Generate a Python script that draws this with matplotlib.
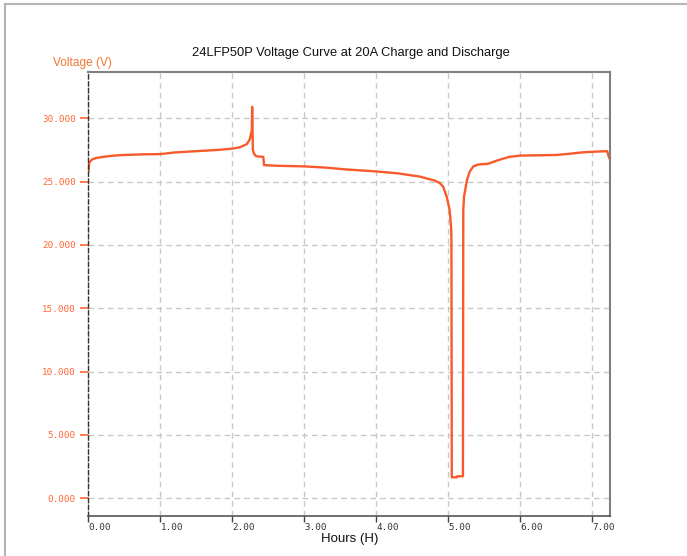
import matplotlib
matplotlib.use("Agg")
import matplotlib.pyplot as plt
from matplotlib.lines import Line2D

# hours since start of test
hours = [0.0, 0.01, 0.05, 0.1, 0.2, 0.35, 0.5, 0.75, 1.0, 1.2, 1.5, 1.8, 2.0,
         2.1, 2.2, 2.24, 2.26, 2.27, 2.275, 2.285, 2.3, 2.33, 2.43, 2.44,
         2.6, 3.0, 3.3, 3.6, 4.0, 4.3, 4.6, 4.8, 4.88, 4.93, 4.98, 5.02, 5.04,
         5.045, 5.05, 5.12, 5.125, 5.205, 5.21, 5.22, 5.26, 5.30, 5.35, 5.42,
         5.55, 5.7, 5.85, 6.0, 6.5, 6.7, 6.85, 7.0, 7.21, 7.23, 7.245]
# pack voltage
volts = [25.8, 26.5, 26.75, 26.85, 26.95, 27.05, 27.1, 27.15, 27.17, 27.3,
         27.4, 27.5, 27.6, 27.7, 27.95, 28.3, 28.8, 29.0, 30.9, 27.5, 27.2,
         27.0, 26.95, 26.3, 26.25, 26.2, 26.1, 25.95, 25.8, 25.65, 25.4,
         25.1, 24.9, 24.6, 23.8, 22.75, 21.4, 20.5, 1.66, 1.66, 1.74, 1.74,
         22.75, 23.8, 25.1, 25.8, 26.2, 26.35, 26.4, 26.7, 26.95, 27.05,
         27.1, 27.2, 27.3, 27.35, 27.4, 27.0, 26.8]

x_ticks = [0, 1, 2, 3, 4, 5, 6, 7]
y_ticks = [0, 5, 10, 15, 20, 25, 30]

LINE_COLOR = '#F95A2C'
TICK_COLOR = '#FF6633'
MONO = 'DejaVu Sans Mono'

fig = plt.figure(figsize=(6.87, 5.56), dpi=100)
ax = fig.add_axes([0.1288, 0.0725, 0.888 - 0.1288, 0.871 - 0.0725])

ax.plot(hours, volts, color=LINE_COLOR, linewidth=1.7)

ax.set_xlim(0, 7.25)
ax.set_ylim(-1.37, 33.67)

ax.set_xticks(x_ticks)
ax.set_xticklabels(['%.2f' % v for v in x_ticks], family=MONO, fontsize=6.7,
                   color='#333333', ha='left')
ax.set_yticks(y_ticks)
ax.set_yticklabels(['%.3f' % v for v in y_ticks], family=MONO, fontsize=6.7,
                   color=TICK_COLOR)
ax.tick_params(axis='x', direction='out', length=4, width=1, color='#444444', pad=1.5)
ax.tick_params(axis='y', direction='out', length=6, width=1.2, color=TICK_COLOR, pad=3)

ax.grid(True, color='#c8c8c8', linestyle=(0, (4, 3)), linewidth=1)

for side in ['top', 'right']:
    ax.spines[side].set_color('#808080')
    ax.spines[side].set_linewidth(1.5)
ax.spines['bottom'].set_color('#555555')
ax.spines['bottom'].set_linewidth(1.2)
ax.spines['left'].set_color('#333333')
ax.spines['left'].set_linestyle((0, (3, 2)))
ax.spines['left'].set_linewidth(1)

fig.text(351 / 687, 1 - 53 / 556, '24LFP50P Voltage Curve at 20A Charge and Discharge',
         ha='center', va='center', family='Liberation Sans', fontsize=9.3, color='#111111')
fig.text(53 / 687, 1 - 63 / 556, 'Voltage (V)', ha='left', va='center',
         family='Liberation Sans', fontsize=8.6, color='#F07830')
fig.text(349.5 / 687, 1 - 539 / 556, 'Hours (H)', ha='center', va='center',
         family='Liberation Sans', fontsize=9.5, color='#111111')

# light frame around the picture
fig.add_artist(Line2D([5 / 687, 5 / 687], [0, 1 - 3.5 / 556], transform=fig.transFigure,
                      color='#b4b4b4', linewidth=1.5))
fig.add_artist(Line2D([5 / 687, 1], [1 - 3.5 / 556, 1 - 3.5 / 556], transform=fig.transFigure,
                      color='#b4b4b4', linewidth=1.5))

fig.savefig('out.png', dpi=100)
